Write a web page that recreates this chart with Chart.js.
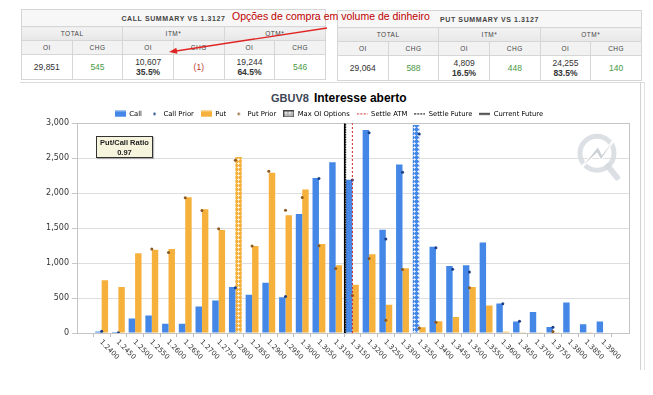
<!DOCTYPE html>
<html>
<head>
<meta charset="utf-8">
<script src="https://cdn.jsdelivr.net/npm/chart.js@4.4.0/dist/chart.umd.min.js"></script>
<style>
  html, body { margin: 0; padding: 0; background: #fff; width: 653px; height: 395px; overflow: hidden; }
  body { position: relative; font-family: "Liberation Sans", Arial, sans-serif; }

  table.sum { position: absolute; border-collapse: collapse; table-layout: fixed; color: #333; }
  table.sum th, table.sum td { border: 1px solid #d6d6d6; text-align: center; padding: 0; white-space: nowrap; overflow: hidden; }
  table.sum tr.h1 th { height: 16px; background: #f7f7f7; font-size: 7px; font-weight: bold; letter-spacing: 0.6px; color: #444; }
  table.sum tr.h2 th { height: 13px; background: linear-gradient(#f3f3f3, #e7e7e7); font-size: 6.5px; font-weight: normal; color: #444; letter-spacing: 0.5px; }
  table.sum tr.h3 th { height: 13px; background: #f2f2f2; font-size: 6.5px; font-weight: normal; color: #444; letter-spacing: 0.5px; }
  table.sum tr.d td { height: 24px; background: #fff; font-size: 8.5px; line-height: 10px; }
  table.sum .pos { color: #4a9a45; }
  table.sum .neg { color: #c0392b; }

  .note { position: absolute; left: 232px; top: 10px; font-size: 10.5px; color: #c00000; white-space: nowrap; }
  .arrow { position: absolute; left: 0; top: 0; }

  .panelTop { position: absolute; left: 20px; top: 82px; width: 625px; height: 1px; background: #dcdcdc; }
  .scroll { position: absolute; left: 640px; top: 82px; width: 3px; height: 288px; border-left: 1px solid #d2d2d2; border-right: 1px solid #e2e2e2; }

  .title { position: absolute; top: 88px; left: 271px; white-space: nowrap; }
  .title .code { font-size: 11px; color: #3d4654; font-weight: bold; }
  .title .main { font-size: 12px; color: #000; font-weight: bold; margin-left: 5px; }

  .ratio { position: absolute; left: 96px; top: 136px; width: 57px; height: 22px; background: #f6f4dc; border: 1px solid #333;
           box-shadow: 1px 1px 1px rgba(0,0,0,0.25); font-size: 7.5px; font-weight: bold; white-space: nowrap;
           color: #222; text-align: center; line-height: 9.5px; padding-top: 1px; box-sizing: border-box; }

  #chart { position: absolute; left: 0; top: 85px; }
</style>
</head>
<body>

<table class="sum" style="left:21px; top:9px; width:305px">
  <colgroup><col><col><col><col><col><col></colgroup>
  <tr class="h1"><th colspan="6">CALL SUMMARY VS 1.3127</th></tr>
  <tr class="h2"><th colspan="2">TOTAL</th><th colspan="2">ITM*</th><th colspan="2">OTM*</th></tr>
  <tr class="h3"><th>OI</th><th>CHG</th><th>OI</th><th>CHG</th><th>OI</th><th>CHG</th></tr>
  <tr class="d"><td>29,851</td><td class="pos">545</td><td>10,607<br><b>35.5%</b></td><td class="neg">(1)</td><td>19,244<br><b>64.5%</b></td><td class="pos">546</td></tr>
</table>

<table class="sum" style="left:337px; top:10px; width:305px">
  <colgroup><col><col><col><col><col><col></colgroup>
  <tr class="h1"><th colspan="6">PUT SUMMARY VS 1.3127</th></tr>
  <tr class="h2"><th colspan="2">TOTAL</th><th colspan="2">ITM*</th><th colspan="2">OTM*</th></tr>
  <tr class="h3"><th>OI</th><th>CHG</th><th>OI</th><th>CHG</th><th>OI</th><th>CHG</th></tr>
  <tr class="d"><td>29,064</td><td class="pos">588</td><td>4,809<br><b>16.5%</b></td><td class="pos">448</td><td>24,255<br><b>83.5%</b></td><td class="pos">140</td></tr>
</table>

<div class="note">Opções de compra em volume de dinheiro</div>
<svg class="arrow" width="653" height="90">
  <line x1="327" y1="28" x2="176" y2="51" stroke="#e02424" stroke-width="1.4"/>
  <polygon points="169,52 177.4,53.8 176.4,47.8" fill="#e02424"/>
</svg>

<div class="panelTop"></div>
<div class="scroll"></div>

<div class="title"><span class="code">GBUV8</span><span class="main">Interesse aberto</span></div>

<canvas id="chart" width="653" height="290"></canvas>

<div class="ratio">Put/Call Ratio<br>0.97</div>

<script>
// --- DATA ---

const strikes = [1.2400, 1.2450, 1.2500, 1.2550, 1.2600, 1.2650, 1.2700, 1.2750, 1.2800, 1.2850,
                 1.2900, 1.2950, 1.3000, 1.3050, 1.3100, 1.3150, 1.3200, 1.3250, 1.3300, 1.3350,
                 1.3400, 1.3450, 1.3500, 1.3550, 1.3600, 1.3650, 1.3700, 1.3750, 1.3800, 1.3850, 1.3900]

const callOI = [22, 15, 206, 250, 134, 134, 379, 465, 657, 547,
                720, 513, 1703, 2217, 2442, 2193, 2903, 1478, 2409, 2975,
                1233, 960, 969, 1296, 422, 163, 302, 86, 437, 125, 163]

const putOI = [753, 657, 1142, 1190, 1200, 1943, 1771, 1473, 2519, 1243,
               2294, 1684, 2054, 1272, 969, 691, 1128, 403, 926, 82,
               168, 230, 657, 393, 19, 12, 10, 12, 8, 10, 8]

const callPrior = [25, 5, null, null, null, null, null, null, 648, null,
                   null, 523, null, 2212, null, 2188, 2865, 1344, 2299, 2846,
                   1219, 912, 873, null, 417, 168, null, 82, null, null, null]

const putPrior = [null, null, null, 1200, 1152, 1934, 1752, 1492, 2471, 1243,
                  2313, 1756, 1939, 1248, 921, 537, 1065, 182, 907, 72,
                  154, null, 648, null, null, null, null, 20, null, null, null]

const yTicks = [0, 500, 1000, 1500, 2000, 2500, 3000]

const settleAtm = 1.3150
const settleFuture = 1.3130
const currentFuture = 1.3127
const maxCallStrike = 1.3350
const maxPutStrike = 1.2800

// --- STYLE ---

const blue = '#4487e6'
const orange = '#f6b13d'
const callDot = '#1c3f86'
const putDot = '#8c5a22'

function hatch(color){
    const c = document.createElement('canvas')
    c.width = 4
    c.height = 4
    const g = c.getContext('2d')
    g.fillStyle = color
    g.fillRect(0, 0, 4, 4)
    g.fillStyle = 'rgba(255,255,255,0.95)'
    g.fillRect(2, 2, 1, 1)
    g.fillStyle = 'rgba(255,255,255,0.7)'
    g.fillRect(2, 1, 1, 1)
    g.fillRect(1, 2, 1, 1)
    g.fillRect(3, 2, 1, 1)
    g.fillRect(2, 3, 1, 1)
    return g.createPattern(c, 'repeat')
}

function icon(draw){
    const c = document.createElement('canvas')
    c.width = 11
    c.height = 7
    draw(c.getContext('2d'))
    return c
}

const callHatch = hatch(blue)
const putHatch = hatch(orange)

const legendIcons = {
    call: icon(g => { g.fillStyle = blue; g.fillRect(0, 0.5, 11, 6) }),
    callPrior: icon(g => { g.fillStyle = callDot; g.beginPath(); g.arc(5.5, 3.5, 1.2, 0, Math.PI * 2); g.fill() }),
    put: icon(g => { g.fillStyle = orange; g.fillRect(0, 0.5, 11, 6) }),
    putPrior: icon(g => { g.fillStyle = putDot; g.beginPath(); g.arc(5.5, 3.5, 1.2, 0, Math.PI * 2); g.fill() }),
    maxOi: icon(g => {
        g.fillStyle = hatch('#b0b0b0'); g.fillRect(0, 0, 11, 7)
        g.strokeStyle = '#444'; g.lineWidth = 1; g.strokeRect(0.5, 0.5, 10, 6)
    }),
    atm: icon(g => { g.strokeStyle = '#d62020'; g.setLineDash([2, 1.5]); g.beginPath(); g.moveTo(0, 3.5); g.lineTo(11, 3.5); g.stroke() }),
    settle: icon(g => { g.strokeStyle = '#000'; g.setLineDash([2, 1]); g.beginPath(); g.moveTo(0, 3.5); g.lineTo(11, 3.5); g.stroke() }),
    current: icon(g => { g.strokeStyle = '#000'; g.lineWidth = 1.5; g.beginPath(); g.moveTo(0, 3.5); g.lineTo(11, 3.5); g.stroke() })
}

const legendItems = [
    ['Call', 'call'], ['Call Prior', 'callPrior'], ['Put', 'put'], ['Put Prior', 'putPrior'],
    ['Max OI Options', 'maxOi'], ['Settle ATM', 'atm'], ['Settle Future', 'settle'], ['Current Future', 'current']
]

// --- PLUGINS ---

const plotFrame = {
    id: 'plotFrame',
    afterLayout(chart){
        // legend sits a bit lower in the original, closer to the plot
        chart.legend.top += 4
        chart.legend.bottom += 4
    },
    beforeDatasetsDraw(chart){
        const {ctx, chartArea: a} = chart
        ctx.save()
        ctx.strokeStyle = '#c4c4c4'
        ctx.lineWidth = 1
        ctx.strokeRect(Math.round(a.left) + 0.5, Math.round(a.top) + 0.5, Math.round(a.width), Math.round(a.height))

        // watermark logo
        const cx = a.right - 32, cy = a.top + 30
        ctx.strokeStyle = 'rgba(214,218,223,0.85)'
        ctx.lineWidth = 5
        ctx.beginPath()
        ctx.arc(cx, cy, 17, 0, Math.PI * 2)
        ctx.stroke()
        ctx.lineCap = 'round'
        ctx.lineWidth = 6
        ctx.beginPath()
        ctx.moveTo(cx + 11, cy + 13)
        ctx.lineTo(cx + 20, cy + 24)
        ctx.stroke()

        ctx.fillStyle = 'rgba(196,201,207,0.85)'
        ctx.strokeStyle = '#fff'
        ctx.lineWidth = 1.2
        ctx.lineJoin = 'miter'
        ctx.beginPath()
        ctx.moveTo(cx + 25, cy - 25)
        ctx.lineTo(cx + 4, cy + 7)
        ctx.lineTo(cx, cy)
        ctx.lineTo(cx - 20, cy + 19)
        ctx.lineTo(cx + 1, cy - 7)
        ctx.lineTo(cx + 5, cy + 1)
        ctx.closePath()
        ctx.fill()
        ctx.stroke()
        ctx.restore()
    }
}

const strikeLabels = {
    id: 'strikeLabels',
    afterDraw(chart){
        const {ctx, chartArea, scales: {x}} = chart
        ctx.save()
        ctx.font = '7px "DejaVu Sans"'
        ctx.fillStyle = '#333'
        ctx.textAlign = 'left'
        ctx.textBaseline = 'middle'
        strikes.forEach(s => {
            ctx.save()
            ctx.translate(x.getPixelForValue(s) - 1, chartArea.bottom + 8)
            ctx.rotate(Math.PI / 4)
            ctx.fillText(s.toFixed(4), 0, 0)
            ctx.restore()
        })
        ctx.restore()
    }
}

// --- CHART ---

function points(values){
    return values.map((v, i) => v == null ? null : {x: strikes[i], y: v}).filter(p => p)
}

function vline(value){
    return [{x: value, y: yTicks[0]}, {x: value, y: yTicks[yTicks.length - 1]}]
}

const ctx = document.getElementById('chart').getContext('2d')

new Chart(ctx, {
    type: 'bar',
    data: {
        datasets: [
            {
                type: 'line', label: 'Current Future', data: vline(currentFuture),
                borderColor: '#000', borderWidth: 1.5, pointRadius: 0, order: 0
            },
            {
                type: 'line', label: 'Settle Future', data: vline(settleFuture),
                borderColor: '#000', borderWidth: 1, borderDash: [1.5, 1], pointRadius: 0, order: 0
            },
            {
                type: 'line', label: 'Settle ATM', data: vline(settleAtm),
                borderColor: '#d62020', borderWidth: 1, borderDash: [2, 2], pointRadius: 0, order: 0
            },
            {
                type: 'line', label: 'Call Prior', data: points(callPrior), showLine: false,
                pointRadius: 1.5, pointBorderWidth: 0, pointBackgroundColor: callDot, order: 0
            },
            {
                type: 'line', label: 'Put Prior', data: points(putPrior), showLine: false,
                pointRadius: 1.5, pointBorderWidth: 0, pointBackgroundColor: putDot, order: 0
            },
            {
                label: 'Call', data: points(callOI), order: 1,
                backgroundColor: c => c.raw && c.raw.x === maxCallStrike ? callHatch : blue,
                categoryPercentage: 0.77, barPercentage: 1
            },
            {
                label: 'Put', data: points(putOI), order: 1,
                backgroundColor: c => c.raw && c.raw.x === maxPutStrike ? putHatch : orange,
                categoryPercentage: 0.77, barPercentage: 1
            }
        ]
    },
    options: {
        responsive: false,
        animation: false,
        devicePixelRatio: 1,
        events: [],
        layout: { padding: { left: 29, right: 24, top: 14.5, bottom: 0 } },
        scales: {
            x: {
                type: 'linear',
                min: 1.235284,
                max: 1.395093,
                afterBuildTicks: s => { s.ticks = strikes.map(v => ({value: v})) },
                afterFit: s => { s.height = 42 },
                ticks: { display: false },
                grid: { drawOnChartArea: false, drawTicks: true, tickLength: 4, color: '#bdbdbd' },
                border: { color: '#b5b5b5' }
            },
            y: {
                min: 0,
                max: 3000,
                afterBuildTicks: s => { s.ticks = yTicks.map(v => ({value: v})) },
                afterFit: s => { s.width = 48 },
                ticks: { color: '#333', padding: 3, font: { family: 'DejaVu Sans', size: 8 } },
                grid: { color: '#dedede', tickLength: 5, tickColor: '#c8c8c8' },
                border: { color: '#c4c4c4' }
            }
        },
        plugins: {
            tooltip: { enabled: false },
            legend: {
                position: 'top',
                align: 'center',
                labels: {
                    usePointStyle: true,
                    pointStyleWidth: 11,
                    boxWidth: 11,
                    padding: 7,
                    color: '#333',
                    font: { family: 'DejaVu Sans', size: 6.8 },
                    generateLabels: () => legendItems.map(([text, key]) => ({
                        text,
                        pointStyle: legendIcons[key],
                        fillStyle: 'transparent',
                        strokeStyle: 'transparent',
                        lineWidth: 0,
                        hidden: false
                    }))
                }
            }
        }
    },
    plugins: [plotFrame, strikeLabels]
})
</script>
</body>
</html>
